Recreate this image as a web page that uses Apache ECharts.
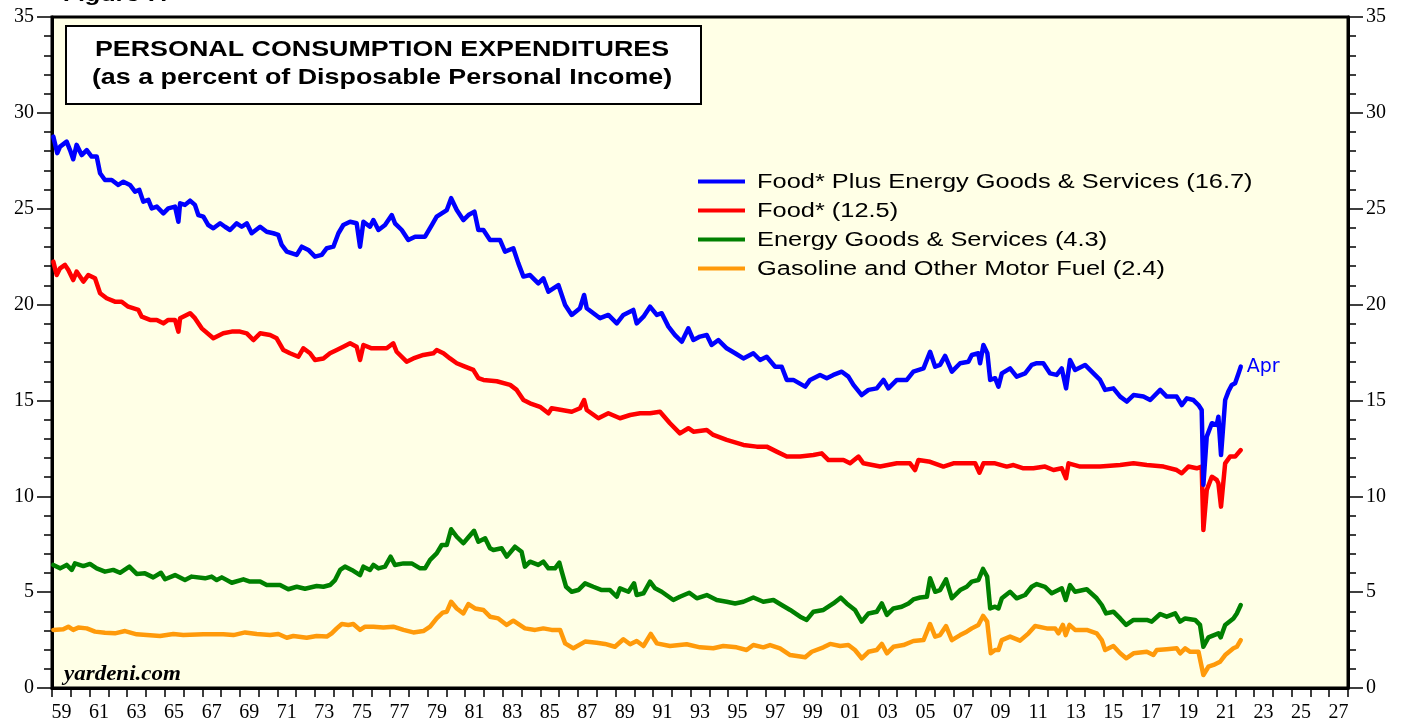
<!DOCTYPE html>
<html>
<head>
<meta charset="utf-8">
<title>Personal Consumption Expenditures</title>
<script src="https://cdn.jsdelivr.net/npm/echarts@6/dist/echarts.min.js"></script>
<style>
  html, body { margin: 0; padding: 0; background: #fff; }
  #chart { width: 1408px; height: 723px; }
</style>
</head>
<body>
<div id="chart"></div>
<script>
// x axis: one category per year, label every other one
const yearLabels = []
for (let y = 1959; y <= 2027; y++) yearLabels.push(String(y % 100).padStart(2, '0'))

// [year, percent]
const foodEnergy = [[1959.07,28.76],[1959.28,27.9],[1959.43,28.24],[1959.78,28.5],[1959.96,28.06],[1960.13,27.58],[1960.31,28.33],[1960.58,27.8],[1960.85,28.06],[1961.11,27.72],[1961.38,27.72],[1961.56,26.85],[1961.82,26.5],[1962.18,26.5],[1962.53,26.24],[1962.8,26.41],[1963.15,26.24],[1963.42,25.89],[1963.65,25.98],[1963.86,25.37],[1964.13,25.46],[1964.31,25.02],[1964.58,25.11],[1964.93,24.76],[1965.19,25.02],[1965.55,25.11],[1965.73,24.32],[1965.82,25.28],[1966.08,25.2],[1966.35,25.42],[1966.61,25.2],[1966.79,24.67],[1967.06,24.59],[1967.32,24.15],[1967.59,23.98],[1967.95,24.24],[1968.21,24.06],[1968.48,23.89],[1968.83,24.24],[1969.1,24.06],[1969.37,24.24],[1969.63,23.72],[1970.08,24.06],[1970.43,23.8],[1970.78,23.72],[1971.05,23.63],[1971.23,23.11],[1971.5,22.76],[1972.03,22.59],[1972.3,23.02],[1972.65,22.85],[1973.0,22.5],[1973.36,22.59],[1973.63,22.94],[1973.98,23.02],[1974.25,23.72],[1974.51,24.15],[1974.87,24.32],[1975.22,24.24],[1975.4,23.02],[1975.58,24.32],[1975.93,24.06],[1976.11,24.41],[1976.38,23.89],[1976.73,24.15],[1977.09,24.67],[1977.26,24.24],[1977.62,23.89],[1977.97,23.37],[1978.33,23.54],[1978.86,23.54],[1979.22,24.15],[1979.48,24.59],[1979.75,24.76],[1980.02,24.93],[1980.25,25.55],[1980.55,24.93],[1980.9,24.41],[1981.17,24.67],[1981.49,24.85],[1981.7,23.89],[1981.97,23.89],[1982.32,23.37],[1982.5,23.37],[1982.85,23.37],[1983.12,22.76],[1983.56,22.94],[1983.83,22.15],[1984.1,21.46],[1984.45,21.54],[1984.89,21.11],[1985.16,21.37],[1985.43,20.67],[1985.96,21.02],[1986.32,19.98],[1986.67,19.46],[1987.11,19.81],[1987.33,20.5],[1987.47,19.81],[1988.18,19.29],[1988.62,19.46],[1989.07,19.02],[1989.42,19.46],[1989.95,19.72],[1990.13,19.02],[1990.49,19.37],[1990.84,19.89],[1991.2,19.46],[1991.46,19.55],[1991.82,18.85],[1992.17,18.41],[1992.53,18.06],[1992.88,18.76],[1993.15,18.15],[1993.5,18.33],[1993.86,18.41],[1994.12,17.89],[1994.48,18.15],[1994.92,17.72],[1995.37,17.46],[1995.81,17.19],[1996.34,17.46],[1996.7,17.11],[1997.05,17.28],[1997.5,16.76],[1997.85,16.76],[1998.12,16.07],[1998.47,16.07],[1999.1,15.72],[1999.36,16.07],[1999.89,16.33],[2000.25,16.16],[2000.6,16.33],[2001.05,16.5],[2001.4,16.24],[2001.67,15.81],[2002.11,15.28],[2002.47,15.55],[2002.91,15.63],[2003.27,16.07],[2003.53,15.63],[2003.98,16.07],[2004.51,16.07],[2004.86,16.5],[2005.4,16.67],[2005.75,17.54],[2006.02,16.76],[2006.28,16.85],[2006.55,17.32],[2006.91,16.5],[2007.35,16.94],[2007.79,17.02],[2007.97,17.37],[2008.32,17.46],[2008.41,16.94],[2008.59,17.89],[2008.8,17.46],[2008.95,16.07],[2009.21,16.16],[2009.39,15.72],[2009.57,16.41],[2010.01,16.67],[2010.36,16.24],[2010.81,16.41],[2011.16,16.85],[2011.43,16.94],[2011.78,16.94],[2012.14,16.41],[2012.49,16.33],[2012.76,16.67],[2012.99,15.63],[2013.2,17.11],[2013.47,16.59],[2014.0,16.85],[2014.45,16.41],[2014.8,16.07],[2015.07,15.55],[2015.51,15.63],[2015.87,15.2],[2016.22,14.94],[2016.58,15.28],[2017.11,15.2],[2017.47,15.02],[2018.0,15.55],[2018.35,15.2],[2018.88,15.2],[2019.15,14.76],[2019.42,15.11],[2019.77,15.02],[2020.04,14.76],[2020.21,14.5],[2020.3,10.6],[2020.48,13.11],[2020.75,13.81],[2021.01,13.72],[2021.1,14.15],[2021.24,12.15],[2021.46,15.02],[2021.63,15.46],[2021.81,15.81],[2021.99,15.9],[2022.17,16.41],[2022.29,16.76]]

const food = [[1959.07,22.24],[1959.25,21.54],[1959.43,21.89],[1959.69,22.07],[1959.87,21.8],[1960.13,21.28],[1960.31,21.72],[1960.67,21.2],[1960.93,21.54],[1961.29,21.37],[1961.56,20.59],[1961.91,20.33],[1962.35,20.15],[1962.71,20.15],[1963.06,19.89],[1963.6,19.72],[1963.78,19.37],[1964.22,19.2],[1964.58,19.2],[1964.93,19.02],[1965.19,19.2],[1965.55,19.2],[1965.73,18.59],[1965.82,19.29],[1966.35,19.55],[1966.61,19.29],[1966.97,18.76],[1967.59,18.24],[1968.12,18.5],[1968.57,18.59],[1969.01,18.59],[1969.37,18.5],[1969.72,18.15],[1970.08,18.5],[1970.61,18.41],[1970.96,18.24],[1971.32,17.63],[1971.67,17.46],[1972.12,17.28],[1972.38,17.72],[1972.74,17.46],[1973.0,17.11],[1973.45,17.19],[1973.8,17.46],[1974.16,17.63],[1974.51,17.8],[1974.87,17.98],[1975.22,17.8],[1975.4,17.11],[1975.58,17.89],[1976.02,17.72],[1976.46,17.72],[1976.82,17.72],[1977.17,17.98],[1977.35,17.54],[1977.88,17.02],[1978.24,17.19],[1978.77,17.37],[1979.3,17.46],[1979.48,17.63],[1979.84,17.46],[1980.19,17.19],[1980.55,16.94],[1980.99,16.76],[1981.43,16.59],[1981.7,16.16],[1981.97,16.07],[1982.68,16.0],[1983.39,15.81],[1983.74,15.55],[1984.1,15.02],[1984.45,14.85],[1984.98,14.67],[1985.43,14.33],[1985.6,14.59],[1986.14,14.5],[1986.67,14.41],[1987.11,14.59],[1987.33,15.02],[1987.47,14.5],[1988.09,14.07],[1988.62,14.33],[1989.24,14.07],[1989.78,14.24],[1990.31,14.33],[1990.84,14.33],[1991.37,14.41],[1991.9,13.81],[1992.43,13.28],[1992.88,13.55],[1993.15,13.37],[1993.86,13.46],[1994.21,13.2],[1994.92,12.94],[1995.81,12.68],[1996.52,12.59],[1997.05,12.59],[1997.58,12.33],[1998.12,12.07],[1998.83,12.07],[1999.54,12.15],[1999.98,12.24],[2000.34,11.89],[2001.14,11.89],[2001.49,11.72],[2001.94,12.07],[2002.2,11.72],[2003.09,11.55],[2003.98,11.72],[2004.68,11.72],[2004.95,11.37],[2005.13,11.89],[2005.75,11.8],[2006.46,11.55],[2006.99,11.72],[2007.7,11.72],[2008.15,11.72],[2008.38,11.23],[2008.59,11.72],[2009.21,11.72],[2009.83,11.55],[2010.19,11.63],[2010.72,11.46],[2011.25,11.46],[2011.87,11.55],[2012.32,11.37],[2012.76,11.46],[2012.99,10.94],[2013.12,11.72],[2013.74,11.55],[2014.8,11.55],[2015.87,11.63],[2016.58,11.72],[2017.29,11.63],[2018.18,11.55],[2018.88,11.37],[2019.15,11.2],[2019.5,11.55],[2019.95,11.46],[2020.21,11.55],[2020.3,8.24],[2020.48,10.33],[2020.75,11.02],[2021.01,10.85],[2021.1,10.68],[2021.24,9.46],[2021.46,11.72],[2021.72,12.07],[2021.99,12.07],[2022.29,12.41]]

const energy = [[1959.07,6.42],[1959.43,6.24],[1959.78,6.42],[1960.05,6.16],[1960.22,6.5],[1960.67,6.36],[1961.02,6.47],[1961.38,6.24],[1961.82,6.07],[1962.26,6.16],[1962.62,6.01],[1963.12,6.33],[1963.51,5.95],[1963.95,5.98],[1964.39,5.77],[1964.8,6.01],[1965.02,5.67],[1965.55,5.89],[1966.08,5.63],[1966.44,5.81],[1967.15,5.72],[1967.5,5.81],[1967.77,5.63],[1968.04,5.77],[1968.57,5.49],[1969.19,5.67],[1969.54,5.55],[1970.08,5.55],[1970.43,5.37],[1971.14,5.37],[1971.58,5.15],[1972.03,5.28],[1972.47,5.18],[1973.09,5.32],[1973.45,5.28],[1973.8,5.37],[1974.07,5.63],[1974.34,6.16],[1974.6,6.33],[1974.96,6.16],[1975.4,5.89],[1975.58,6.33],[1975.93,6.16],[1976.11,6.42],[1976.38,6.24],[1976.73,6.33],[1977.03,6.85],[1977.26,6.42],[1977.71,6.5],[1978.15,6.5],[1978.6,6.24],[1978.86,6.24],[1979.13,6.68],[1979.48,7.02],[1979.75,7.46],[1980.02,7.46],[1980.25,8.28],[1980.55,7.89],[1980.9,7.55],[1981.17,7.86],[1981.47,8.2],[1981.7,7.63],[1982.06,7.81],[1982.32,7.29],[1982.5,7.2],[1982.94,7.29],[1983.21,6.85],[1983.65,7.37],[1984.0,7.11],[1984.18,6.33],[1984.45,6.59],[1984.89,6.42],[1985.16,6.59],[1985.43,6.24],[1985.78,6.24],[1986.01,6.54],[1986.14,6.07],[1986.37,5.28],[1986.67,5.02],[1987.02,5.11],[1987.38,5.46],[1987.82,5.28],[1988.27,5.11],[1988.71,5.11],[1989.07,4.76],[1989.24,5.2],[1989.69,5.02],[1989.99,5.46],[1990.13,4.85],[1990.49,4.94],[1990.84,5.55],[1991.11,5.2],[1991.46,5.02],[1992.08,4.59],[1992.43,4.76],[1992.93,4.97],[1993.33,4.68],[1993.86,4.85],[1994.39,4.59],[1994.92,4.5],[1995.37,4.41],[1995.81,4.5],[1996.34,4.72],[1996.87,4.5],[1997.41,4.59],[1997.85,4.33],[1998.3,4.07],[1998.83,3.72],[1999.18,3.55],[1999.54,3.98],[2000.07,4.07],[2000.6,4.41],[2000.99,4.71],[2001.31,4.41],[2001.75,4.07],[2002.11,3.46],[2002.47,3.89],[2002.91,3.98],[2003.18,4.41],[2003.45,3.81],[2003.8,4.15],[2004.24,4.24],[2004.6,4.41],[2004.86,4.62],[2005.22,4.72],[2005.58,4.76],[2005.75,5.72],[2006.02,5.02],[2006.28,5.11],[2006.6,5.67],[2006.91,4.68],[2007.35,5.11],[2007.7,5.28],[2007.97,5.55],[2008.32,5.63],[2008.57,6.21],[2008.79,5.81],[2008.95,4.15],[2009.21,4.24],[2009.39,4.15],[2009.57,4.68],[2010.01,5.02],[2010.36,4.68],[2010.81,4.85],[2011.16,5.28],[2011.43,5.42],[2011.87,5.28],[2012.23,4.94],[2012.58,5.11],[2012.76,5.2],[2012.97,4.59],[2013.2,5.37],[2013.47,5.02],[2014.09,5.15],[2014.62,4.68],[2014.89,4.33],[2015.12,3.89],[2015.51,3.98],[2015.87,3.63],[2016.19,3.29],[2016.58,3.55],[2017.29,3.55],[2017.55,3.46],[2018.0,3.86],[2018.35,3.72],[2018.8,3.89],[2019.06,3.46],[2019.33,3.63],[2019.86,3.55],[2020.12,3.29],[2020.3,2.15],[2020.57,2.64],[2021.1,2.85],[2021.22,2.64],[2021.46,3.29],[2021.9,3.63],[2022.08,3.89],[2022.29,4.33]]

const gasoline = [[1959.07,3.03],[1959.6,3.06],[1959.87,3.2],[1960.13,3.03],[1960.4,3.15],[1960.85,3.11],[1961.29,2.94],[1961.82,2.88],[1962.35,2.85],[1962.89,2.97],[1963.51,2.8],[1964.04,2.76],[1964.75,2.71],[1965.46,2.82],[1965.99,2.76],[1967.06,2.8],[1968.12,2.8],[1968.66,2.76],[1969.28,2.9],[1969.9,2.82],[1970.61,2.76],[1971.05,2.82],[1971.5,2.62],[1971.85,2.71],[1972.56,2.62],[1973.09,2.71],[1973.63,2.68],[1973.89,2.85],[1974.16,3.11],[1974.43,3.34],[1974.78,3.29],[1975.04,3.34],[1975.4,3.03],[1975.67,3.2],[1976.11,3.2],[1976.64,3.15],[1977.17,3.2],[1977.71,3.03],[1978.24,2.9],[1978.77,2.97],[1979.13,3.2],[1979.48,3.63],[1979.8,3.93],[1980.02,3.98],[1980.25,4.5],[1980.55,4.15],[1980.9,3.89],[1981.17,4.38],[1981.52,4.15],[1981.97,4.07],[1982.32,3.72],[1982.76,3.63],[1983.21,3.29],[1983.56,3.51],[1984.18,3.11],[1984.72,3.03],[1985.16,3.11],[1985.6,3.03],[1986.05,3.03],[1986.32,2.33],[1986.76,2.07],[1987.38,2.42],[1988.0,2.36],[1988.44,2.3],[1988.97,2.15],[1989.42,2.54],[1989.78,2.28],[1990.13,2.45],[1990.49,2.19],[1990.88,2.82],[1991.2,2.33],[1991.9,2.19],[1992.79,2.28],[1993.5,2.12],[1994.21,2.07],[1994.74,2.19],[1995.45,2.12],[1995.98,1.98],[1996.34,2.24],[1996.87,2.12],[1997.23,2.24],[1997.76,2.07],[1998.3,1.72],[1999.1,1.6],[1999.45,1.89],[2000.07,2.12],[2000.43,2.3],[2000.96,2.19],[2001.4,2.24],[2001.75,1.98],[2002.11,1.55],[2002.47,1.89],[2002.91,1.98],[2003.18,2.3],[2003.45,1.81],[2003.8,2.15],[2004.33,2.24],[2004.86,2.45],[2005.4,2.5],[2005.75,3.34],[2006.02,2.68],[2006.28,2.76],[2006.6,3.23],[2006.91,2.5],[2007.35,2.76],[2007.7,2.94],[2007.97,3.11],[2008.32,3.29],[2008.57,3.76],[2008.79,3.46],[2008.98,1.81],[2009.21,1.98],[2009.39,1.98],[2009.57,2.5],[2010.01,2.68],[2010.54,2.47],[2010.99,2.85],[2011.34,3.23],[2011.96,3.11],[2012.41,3.11],[2012.58,2.85],[2012.82,3.29],[2012.97,2.76],[2013.17,3.29],[2013.47,3.03],[2014.09,3.03],[2014.62,2.85],[2014.89,2.5],[2015.07,1.98],[2015.51,2.19],[2015.87,1.81],[2016.19,1.55],[2016.58,1.81],[2017.29,1.89],[2017.64,1.72],[2017.82,1.98],[2018.35,2.02],[2018.88,2.07],[2019.06,1.81],[2019.33,2.07],[2019.6,1.89],[2020.04,1.89],[2020.3,0.68],[2020.57,1.11],[2020.84,1.2],[2021.19,1.37],[2021.46,1.72],[2021.9,2.07],[2022.08,2.15],[2022.29,2.5]]

const seriesNames = [
  'Food* Plus Energy Goods & Services (16.7)',
  'Food* (12.5)',
  'Energy Goods & Services (4.3)',
  'Gasoline and Other Motor Fuel (2.4)'
]
const seriesColors = ['#0000ff', '#ff0000', '#008000', '#ff9a0a']
const seriesData = [foodEnergy, food, energy, gasoline]

const chart = echarts.init(document.getElementById('chart'))

// legend drawn by hand, text is stretched like in the original
const legendItems = seriesNames.map((name, i) => ({
  type: 'group',
  left: 698,
  top: 172 + i * 29,
  children: [
    { type: 'rect', shape: { x: 0, y: 7.5, width: 47, height: 4 }, style: { fill: seriesColors[i] } },
    {
      type: 'text', x: 59, y: 10, scaleX: 1.27,
      style: { text: name, fill: '#000', font: '20px "Liberation Sans", Arial, sans-serif', verticalAlign: 'middle' }
    }
  ]
}))

const yAxisCommon = {
  type: 'value',
  min: 0,
  max: 35,
  interval: 5,
  splitLine: { show: false },
  axisLine: { show: true, lineStyle: { color: '#000', width: 3 } },
  axisTick: { show: true, length: 15, lineStyle: { color: '#000', width: 1.5 } },
  minorTick: { show: true, splitNumber: 5, length: 8, lineStyle: { color: '#000', width: 1.5 } },
  axisLabel: { color: '#000', fontSize: 20, fontFamily: '"Liberation Serif", "Times New Roman", serif', margin: 18 }
}

const option = {
  backgroundColor: '#ffffff',
  animation: false,
  grid: {
    left: 52, right: 60, top: 17, bottom: 35,
    show: true,
    backgroundColor: '#ffffe6',
    borderColor: '#000',
    borderWidth: 3
  },
  xAxis: [
    { type: 'value', min: 1959, max: 2028, show: false },
    {
      type: 'category',
      data: yearLabels,
      position: 'bottom',
      boundaryGap: true,
      axisLine: { show: true, lineStyle: { color: '#000', width: 3 } },
      axisTick: { show: true, interval: 0, length: 9, lineStyle: { color: '#000', width: 1.5 } },
      axisLabel: { interval: 1, color: '#000', fontSize: 20, fontFamily: '"Liberation Serif", "Times New Roman", serif', margin: 15 },
      splitLine: { show: false }
    }
  ],
  yAxis: [
    Object.assign({ position: 'left' }, yAxisCommon),
    Object.assign({ position: 'right' }, yAxisCommon)
  ],
  series: seriesData.map((d, i) => ({
    name: seriesNames[i],
    type: 'line',
    xAxisIndex: 0,
    yAxisIndex: 0,
    data: d,
    showSymbol: false,
    smooth: false,
    z: 10 - i,
    lineStyle: { color: seriesColors[i], width: 4.5, join: 'round', cap: 'round' },
    endLabel: i === 0 ? {
      show: true,
      formatter: 'Apr',
      color: '#0000ff',
      fontSize: 19,
      fontFamily: '"DejaVu Sans", sans-serif',
      distance: 6
    } : { show: false }
  })),
  graphic: [
    {
      type: 'text', left: 64, top: -15, scaleX: 1.25,
      style: { text: 'Figure 7.', fill: '#000', font: 'italic bold 20px "Liberation Sans", Arial, sans-serif' }
    },
    {
      type: 'rect', left: 65, top: 25,
      shape: { width: 635, height: 78 },
      style: { fill: '#fff', stroke: '#000', lineWidth: 2 },
      z: 20
    },
    {
      type: 'text', x: 382, y: 50, scaleX: 1.22, z: 21,
      style: { text: 'PERSONAL CONSUMPTION EXPENDITURES', fill: '#000', font: 'bold 22px "Liberation Sans", Arial, sans-serif', align: 'center', verticalAlign: 'middle' }
    },
    {
      type: 'text', x: 382, y: 78, scaleX: 1.22, z: 21,
      style: { text: '(as a percent of Disposable Personal Income)', fill: '#000', font: 'bold 22px "Liberation Sans", Arial, sans-serif', align: 'center', verticalAlign: 'middle' }
    },
    {
      type: 'text', x: 64, y: 675, scaleX: 1.15, z: 21,
      style: { text: 'yardeni.com', fill: '#000', font: 'italic bold 20px "Liberation Serif", "Times New Roman", serif', verticalAlign: 'middle' }
    }
  ].concat(legendItems)
}

chart.setOption(option)
</script>
</body>
</html>
